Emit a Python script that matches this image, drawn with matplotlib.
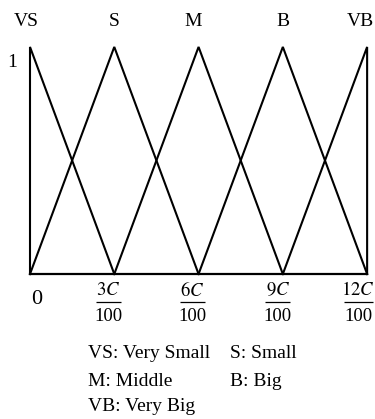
import matplotlib
matplotlib.use('Agg')
import matplotlib.pyplot as plt
from matplotlib import transforms

plt.rcParams['font.family'] = ['Liberation Serif', 'DejaVu Serif']
plt.rcParams['mathtext.fontset'] = 'stix'

# fuzzy sets: centres in units of C/100, triangle half width
set_names = ['VS', 'S', 'M', 'B', 'VB']
centres = [0, 3, 6, 9, 12]
half_width = 3
x_min, x_max = 0, 12
numerators = ['$3C$', '$6C$', '$9C$', '$12C$']
denominator = '100'
legend_rows = [['VS: Very Small', 'S: Small'],
               ['M: Middle', 'B: Big'],
               ['VB: Very Big', '']]


def membership(x, c):
    return max(0.0, 1 - abs(x - c) / half_width)


fig = plt.figure(figsize=(3.75, 4.19), dpi=100)
ax = fig.add_axes([0.08, 0.346, 0.899, 0.542])

for c in centres:
    a = max(c - half_width, x_min)
    b = min(c + half_width, x_max)
    xs = [a, a, c, b, b]
    ys = [0, membership(a, c), 1, membership(b, c), 0]
    ax.plot(xs, ys, color='black', lw=1.5, clip_on=False, solid_joinstyle='miter')

ax.set_xlim(x_min, x_max)
ax.set_ylim(0, 1)
for side in ['top', 'right', 'left']:
    ax.spines[side].set_visible(False)
ax.spines['bottom'].set_linewidth(1.6)
ax.set_xticks([])
ax.set_yticks([])

blend = transforms.blended_transform_factory(ax.transData, ax.transAxes)

# set names above peaks (small nudges in pixels)
name_nudge = [-4, 0, -5, 0, -7]
for name, c, dx in zip(set_names, centres, name_nudge):
    off = transforms.offset_copy(blend, fig=fig, x=dx, y=0, units='dots')
    ax.text(c, 1.11, name, transform=off, ha='center', va='center', fontsize=14)

ax.text(-0.053, 0.93, '1', transform=ax.transAxes, ha='center', va='center', fontsize=14)

# x tick labels: "0" and fractions drawn as numerator / bar / denominator
off0 = transforms.offset_copy(blend, fig=fig, x=7, y=0, units='dots')
ax.text(centres[0], -0.11, '0', transform=off0, ha='center', va='center', fontsize=16)

frac_nudge = [-6, -6, -5, -9]
for num, c, dx in zip(numerators, centres[1:], frac_nudge):
    off = transforms.offset_copy(blend, fig=fig, x=dx, y=0, units='dots')
    ax.text(c, -0.072, num, transform=off, ha='center', va='center', fontsize=13.5)
    ax.text(c, -0.185, denominator, transform=off, ha='center', va='center', fontsize=13.5)
    w = 0.45 if len(num) < 5 else 0.52
    ax.plot([c - w, c + w], [-0.124, -0.124], transform=off, color='black',
            lw=0.9, clip_on=False, solid_capstyle='butt')

# legend text
row_y = [353, 381, 406]
col_x = [88, 230]
for row, y in zip(legend_rows, row_y):
    for txt, x in zip(row, col_x):
        if txt:
            fig.text(x / 375, 1 - y / 419, txt, ha='left', va='center', fontsize=14)

fig.savefig('out.png', dpi=100)
